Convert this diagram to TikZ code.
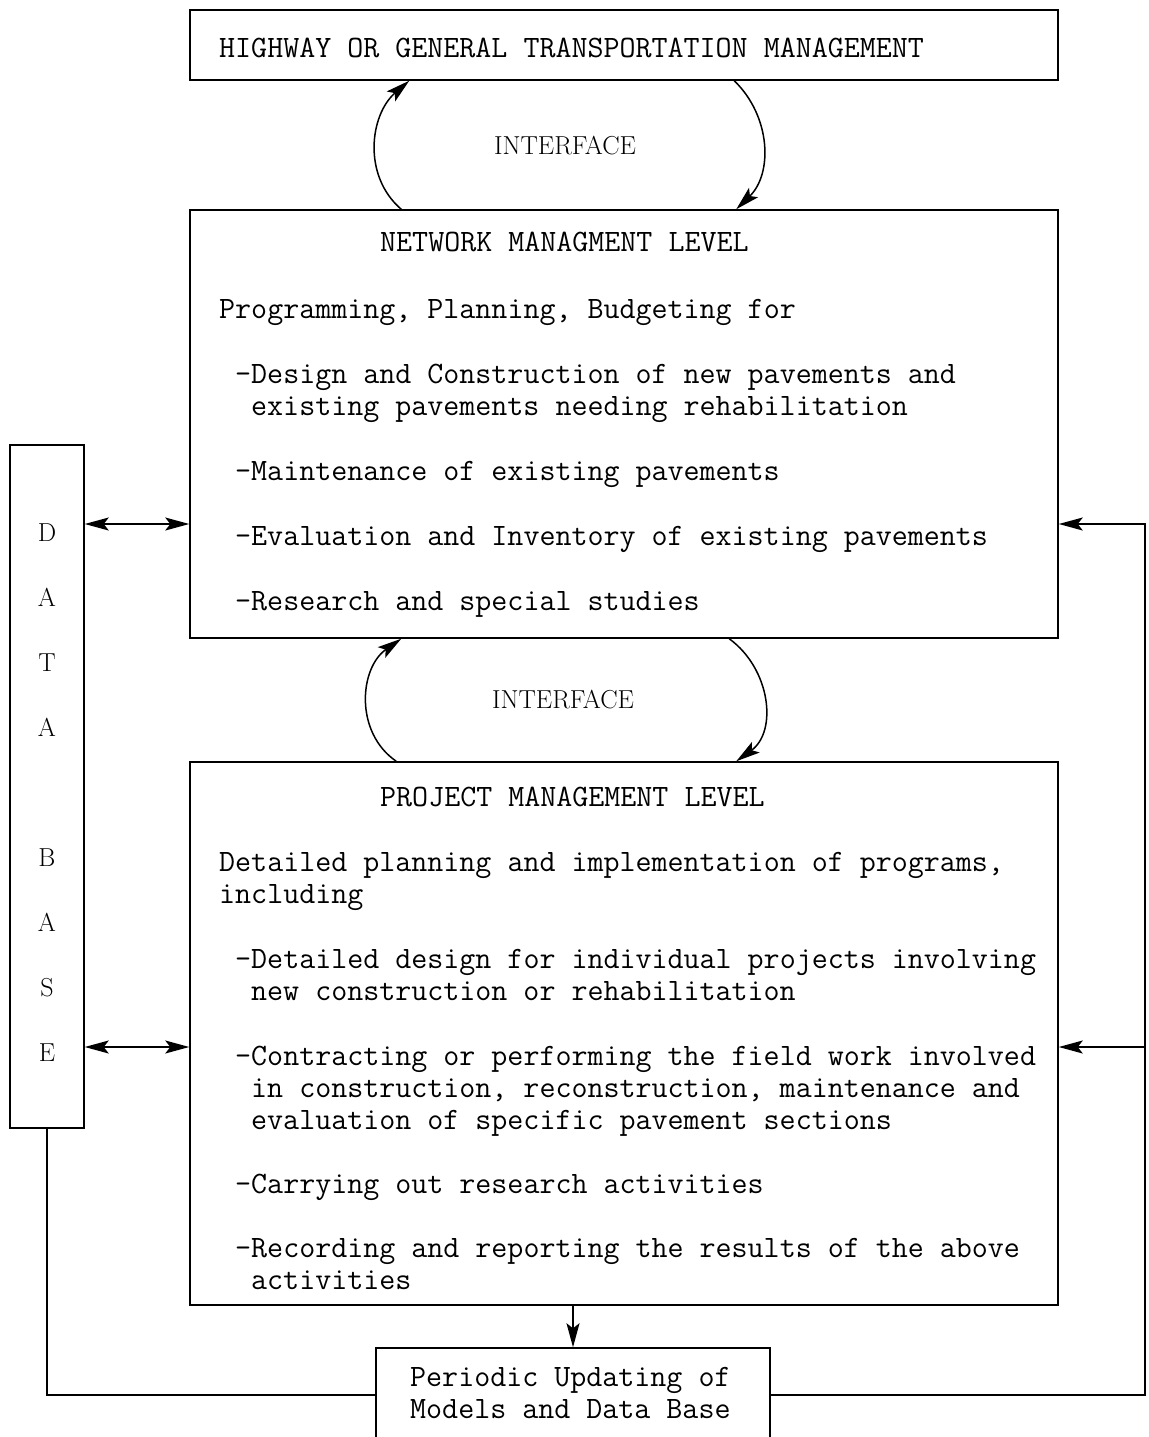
\documentclass[tikz,border=0pt]{standalone}
\usepackage{fontspec}
\usetikzlibrary{arrows.meta}
\tikzset{
  box/.style={draw, line width=1.5pt, rectangle, inner sep=0pt},
  tt/.style={font=\fontsize{31.1}{32}\selectfont\ttfamily, anchor=base west, inner sep=0pt},
  rmtext/.style={font=\fontsize{26}{28}\selectfont\rmfamily, anchor=base, inner sep=0pt},
  conn/.style={line width=1.5pt},
  tip/.style={-{Stealth[length=24pt,width=13pt,inset=5pt]}},
  dtip/.style={{Stealth[length=24pt,width=13pt,inset=5pt]}-{Stealth[length=24pt,width=13pt,inset=5pt]}}
}
\begin{document}
\begin{tikzpicture}[x=1pt,y=1pt]
\useasboundingbox (0,0) rectangle (1148,-1437);

% boxes
\node[box, minimum width=868pt, minimum height=70pt] (top) at (624,-45) {};
\node[box, minimum width=868pt, minimum height=428pt] (net) at (624,-424) {};
\node[box, minimum width=868pt, minimum height=543pt] (proj) at (624,-1033.5) {};
\node[box, minimum width=74pt, minimum height=683pt] (db) at (47,-786.5) {};
\node[box, minimum width=394pt, minimum height=120pt] (upd) at (573,-1408) {};

% top text
\node[tt] (tA) at (219,-57) {HIGHWAY OR GENERAL TRANSPORTATION MANAGEMENT};

% interface labels
\node[rmtext] (if1) at (565,-154) {INTERFACE};
\node[rmtext] (if2) at (563,-708) {INTERFACE};

% network text
\node[tt] (n0) at (380,-251) {NETWORK MANAGMENT LEVEL};
\node[tt] (n1) at (219,-318) {Programming, Planning, Budgeting for};
\node[tt] (n2) at (235,-383) {-Design and Construction of new pavements and};
\node[tt] (n3) at (251,-415) {existing pavements needing rehabilitation};
\node[tt] (n4) at (235,-480) {-Maintenance of existing pavements};
\node[tt] (n5) at (235,-545) {-Evaluation and Inventory of existing pavements};
\node[tt] (n6) at (235,-610) {-Research and special studies};

% project text
\node[tt] (p0) at (380,-806) {PROJECT MANAGEMENT LEVEL};
\node[tt] (p1) at (219,-871) {Detailed planning and implementation of programs,};
\node[tt] (p2) at (219,-903) {including};
\node[tt] (p3) at (235,-968) {-Detailed design for individual projects involving};
\node[tt] (p4) at (251,-1000) {new construction or rehabilitation};
\node[tt] (p5) at (235,-1065) {-Contracting or performing the field work involved};
\node[tt] (p6) at (251,-1097) {in construction, reconstruction, maintenance and};
\node[tt] (p7) at (251,-1129) {evaluation of specific pavement sections};
\node[tt] (p8) at (235,-1193) {-Carrying out research activities};
\node[tt] (p9) at (235,-1257) {-Recording and reporting the results of the above};
\node[tt] (p10) at (251,-1289) {activities};

% update box text
\node[tt] (u1) at (410,-1386) {Periodic Updating of};
\node[tt] (u2) at (410,-1418) {Models and Data Base};

% data base letters
\node[rmtext] (d1) at (47,-541) {D};
\node[rmtext] (d2) at (47,-606) {A};
\node[rmtext] (d3) at (47,-671) {T};
\node[rmtext] (d4) at (47,-736) {A};
\node[rmtext] (d5) at (47,-866) {B};
\node[rmtext] (d6) at (47,-931) {A};
\node[rmtext] (d7) at (47,-996) {S};
\node[rmtext] (d8) at (47,-1061) {E};

% interface arcs
\draw[conn, tip] ([xshift=212pt]net.north west) .. controls (362,-175.6) and (370,-114.4) .. ([xshift=220pt]top.south west);
\draw[conn, tip] ([xshift=545pt]top.south west) .. controls (771,-116.3) and (773,-173.7) .. ([xshift=547pt]net.north west);
\draw[conn, tip] ([xshift=207pt]proj.north west) .. controls (354.3,-732.5) and (359.3,-668) .. ([xshift=212pt]net.south west);
\draw[conn, tip] ([xshift=540pt]net.south west) .. controls (770.7,-669) and (777.7,-731.5) .. ([xshift=547pt]proj.north west);

% data base links
\coordinate (r1) at (0,-524);
\coordinate (r2) at (0,-1047);
\coordinate (fb) at (1145,-1395);
\draw[conn, dtip] (db.east |- r1) -- (net.west |- r1);
\draw[conn, dtip] (db.east |- r2) -- (proj.west |- r2);

% feedback loops
\draw[conn, tip] (upd.east |- fb) -- (fb) |- (net.east |- r1);
\draw[conn, tip] (fb |- r2) -- (proj.east |- r2);
\draw[conn] (db.south) |- (upd.west |- fb);
\draw[conn, tip] (upd.north |- proj.south) -- (upd.north);
\end{tikzpicture}
\end{document}
